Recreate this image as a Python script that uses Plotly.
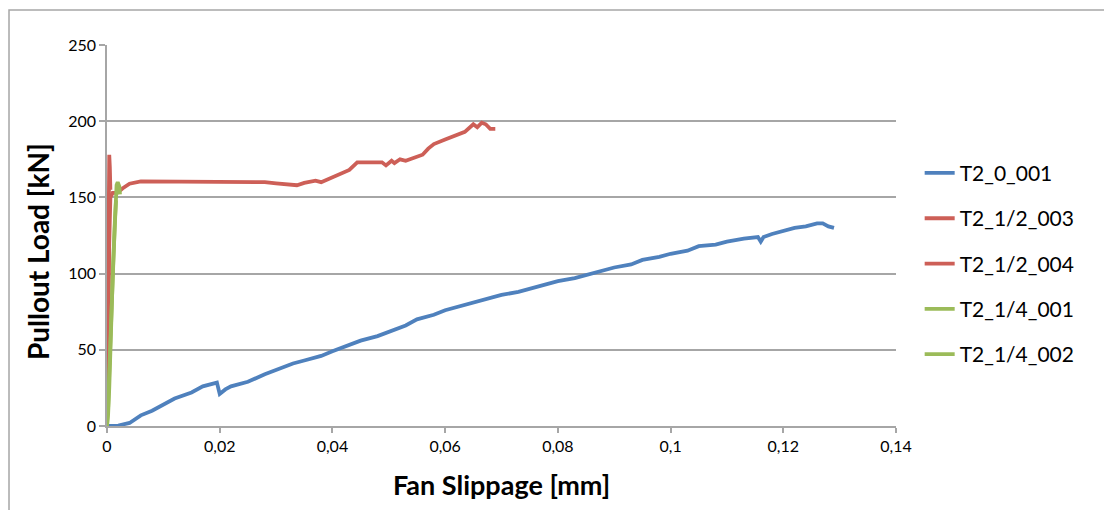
import plotly.graph_objects as go

# Pullout test curves: fan slippage [mm] vs pullout load [kN]
t2_0_001_x = [0, 0.002, 0.004, 0.006, 0.008, 0.010, 0.012, 0.015, 0.017, 0.019, 0.0195,
              0.020, 0.021, 0.022, 0.025, 0.028, 0.030, 0.033, 0.035, 0.038, 0.040,
              0.043, 0.045, 0.048, 0.050, 0.053, 0.055, 0.058, 0.060, 0.063, 0.065,
              0.068, 0.070, 0.073, 0.075, 0.078, 0.080, 0.083, 0.085, 0.088, 0.090,
              0.093, 0.095, 0.098, 0.100, 0.103, 0.105, 0.108, 0.110, 0.113, 0.1155,
              0.116, 0.1165, 0.118, 0.120, 0.122, 0.124, 0.126, 0.127, 0.128, 0.129]
t2_0_001_y = [0, 0.3, 2, 7, 10, 14, 18, 22, 26, 28, 28.5,
              21, 24, 26, 29, 34, 37, 41, 43, 46, 49,
              53, 56, 59, 62, 66, 70, 73, 76, 79, 81,
              84, 86, 88, 90, 93, 95, 97, 99, 102, 104,
              106, 109, 111, 113, 115, 118, 119, 121, 123, 124,
              121, 124, 126, 128, 130, 131, 133, 133, 131, 130]

t2_12_003_x = [0, 0.0002, 0.0003, 0.0004, 0.0006, 0.0010, 0.0018, 0.0028, 0.0040,
               0.0060, 0.0100, 0.0150, 0.0200, 0.0250, 0.0280, 0.0300, 0.0320, 0.0337,
               0.0350, 0.0370, 0.0380, 0.0400, 0.0410, 0.0420, 0.0430, 0.0444, 0.0470,
               0.0488, 0.0495, 0.0505, 0.0510, 0.0520, 0.0530, 0.0544, 0.0560, 0.0570,
               0.0580, 0.0600, 0.0620, 0.0635, 0.0650, 0.0657, 0.0665, 0.0672, 0.0680,
               0.0689]
t2_12_003_y = [0, 40, 85, 120, 150, 153, 153, 156, 159,
               160.5, 160.5, 160.3, 160.1, 160, 160, 159.2, 158.8, 158,
               159.5, 161, 160, 163, 164.5, 166, 168, 173, 173,
               173, 171, 174, 172.5, 175, 174, 176, 178, 182,
               185, 188, 191, 193, 198, 196, 199, 198, 195,
               195]

t2_12_004_x = [0, 0.0001, 0.0002, 0.0003, 0.0003, 0.0004, 0.0005, 0.0006]
t2_12_004_y = [0, 60, 110, 140, 165, 178, 170, 155]

t2_14_001_x = [0, 0.0002, 0.0004, 0.0005, 0.0007, 0.0009, 0.0011, 0.0013, 0.0015,
               0.0016, 0.0017, 0.0019, 0.0022, 0.0023]
t2_14_001_y = [0, 8, 25, 41, 60, 85, 107, 125, 140,
               150, 158, 160, 157, 152]

t2_14_002_x = [0, 0.0002, 0.0004, 0.0006, 0.0008, 0.0010, 0.0012, 0.0014, 0.0016]
t2_14_002_y = [0, 12, 35, 58, 80, 98, 118, 135, 148]

blue = "#4f81bd"
red = "#cd5f57"
green = "#9bbb59"

series = [
    ("T2_0_001", t2_0_001_x, t2_0_001_y, blue),
    ("T2_1/2_003", t2_12_003_x, t2_12_003_y, red),
    ("T2_1/2_004", t2_12_004_x, t2_12_004_y, red),
    ("T2_1/4_001", t2_14_001_x, t2_14_001_y, green),
    ("T2_1/4_002", t2_14_002_x, t2_14_002_y, green),
]

fig = go.Figure()
for i, (name, xs, ys, col) in enumerate(series):
    fig.add_trace(go.Scatter(
        x=xs, y=ys, name=name, mode="lines", legendgroup=f"g{i}",
        line=dict(color=col, width=3.8),
    ))

font_family = "Lato, Open Sans, sans-serif"
grid = "#a6a6a6"

fig.update_layout(
    width=1104, height=510,
    margin=dict(l=107, r=208, t=45, b=84),
    paper_bgcolor="white", plot_bgcolor="white",
    separators=",.",
    font=dict(family=font_family, color="black", size=16),
    showlegend=True,
    legend=dict(
        x=1.03, xanchor="left", y=0.717, yanchor="top",
        traceorder="grouped", tracegroupgap=15,
        font=dict(size=21, family=font_family, color="black"),
        bgcolor="rgba(0,0,0,0)",
    ),
    xaxis=dict(
        range=[0, 0.14], tickvals=[0, 0.02, 0.04, 0.06, 0.08, 0.1, 0.12, 0.14],
        showgrid=False, zeroline=False, showline=True, linecolor=grid, linewidth=1.5,
        ticks="outside", ticklen=5, tickcolor=grid, tickwidth=1.5,
        tickfont=dict(size=16), fixedrange=True,
        title=dict(text="<b>Fan Slippage [mm]</b>", font=dict(size=27), standoff=22),
    ),
    yaxis=dict(
        range=[0, 250], tickvals=[0, 50, 100, 150, 200, 250],
        showgrid=True, gridcolor=grid, gridwidth=1.5, zeroline=False,
        showline=True, linecolor=grid, linewidth=1.5,
        ticks="outside", ticklen=6, tickcolor=grid, tickwidth=1.5,
        tickfont=dict(size=16),
    ),
    annotations=[dict(
        text="<b>Pullout Load [kN]</b>", textangle=-90,
        xref="paper", yref="paper", x=-0.0875, y=0.459,
        xanchor="center", yanchor="middle", showarrow=False,
        font=dict(size=28, family=font_family, color="black"),
    )],
    shapes=[dict(
        type="rect", xref="paper", yref="paper",
        x0=-0.1242, x1=1.6, y0=-0.6, y1=1.0919,
        line=dict(color="#a6a6a6", width=1.5), fillcolor="rgba(0,0,0,0)", layer="below",
    )],
)

fig.write_html("out.html")
